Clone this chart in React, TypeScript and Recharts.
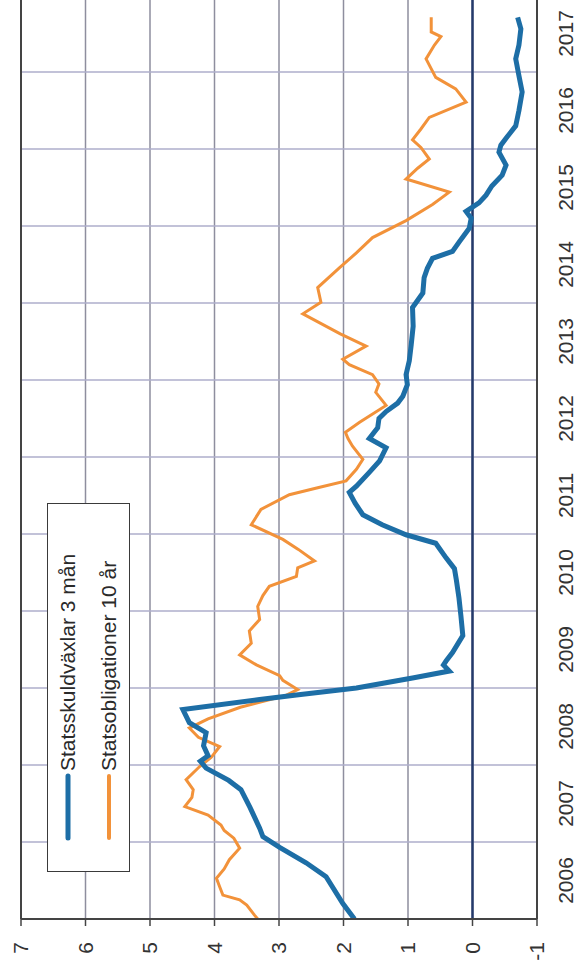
import React from "react";
import {
  LineChart,
  Line,
  XAxis,
  YAxis,
  CartesianGrid,
  ReferenceLine,
} from "recharts";

// Statsskuldväxlar 3 mån, decimal year / percent
const tbillYears = [
  2006.0, 2006.2, 2006.55, 2006.73, 2006.93, 2007.07, 2007.18, 2007.45, 2007.68,
  2007.8, 2007.96, 2008.05, 2008.12, 2008.25, 2008.42, 2008.55, 2008.72, 2008.85,
  2008.91, 2009.0, 2009.13, 2009.22, 2009.3, 2009.35, 2009.46, 2009.68, 2009.94,
  2010.17, 2010.4, 2010.55, 2010.69, 2010.88, 2010.99, 2011.12, 2011.25, 2011.4,
  2011.54, 2011.62, 2011.8, 2011.95, 2012.12, 2012.24, 2012.38, 2012.5, 2012.59,
  2012.7, 2012.79, 2012.94, 2013.07, 2013.25, 2013.46, 2013.7, 2013.94, 2014.13,
  2014.33, 2014.45, 2014.58, 2014.67, 2014.8, 2014.97, 2015.1, 2015.19, 2015.3,
  2015.4, 2015.52, 2015.66, 2015.79, 2015.96, 2016.05, 2016.14, 2016.3, 2016.5,
  2016.74, 2016.95, 2017.17, 2017.35, 2017.56, 2017.71,
];
const tbillRates = [
  1.83, 2.01, 2.27, 2.58, 2.99, 3.25, 3.3, 3.45, 3.59,
  3.78, 4.13, 4.22, 4.1, 4.17, 4.13, 4.39, 4.49, 3.3,
  2.73, 1.8, 0.93, 0.36, 0.45, 0.41, 0.31, 0.15, 0.18,
  0.21, 0.25, 0.28, 0.41, 0.57, 1.03, 1.4, 1.7, 1.82,
  1.91, 1.8, 1.6, 1.44, 1.34, 1.6, 1.47, 1.45, 1.34,
  1.16, 1.08, 1.01, 1.03, 0.98, 0.95, 0.92, 0.93, 0.77,
  0.75, 0.7, 0.62, 0.31, 0.2, 0.05, 0.02, 0.1, -0.1,
  -0.21, -0.3, -0.46, -0.52, -0.41, -0.44, -0.52, -0.67, -0.72,
  -0.77, -0.72, -0.67, -0.72, -0.75, -0.7,
];

// Statsobligationer 10 år
const bondYears = [
  2006.0, 2006.05, 2006.18, 2006.25, 2006.31, 2006.42, 2006.53, 2006.65, 2006.77,
  2006.92, 2007.05, 2007.15, 2007.22, 2007.35, 2007.46, 2007.58, 2007.68, 2007.81,
  2007.98, 2008.1, 2008.24, 2008.36, 2008.48, 2008.6, 2008.75, 2008.9, 2008.98,
  2009.1, 2009.16, 2009.3, 2009.43, 2009.58, 2009.74, 2009.89, 2010.06, 2010.2,
  2010.32, 2010.45, 2010.56, 2010.65, 2010.8, 2010.93, 2011.12, 2011.32, 2011.51,
  2011.6, 2011.69, 2011.84, 2011.97, 2012.14, 2012.24, 2012.32, 2012.45, 2012.67,
  2012.84, 2012.95, 2013.07, 2013.2, 2013.27, 2013.44, 2013.6, 2013.86, 2014.01,
  2014.2, 2014.46, 2014.65, 2014.85, 2015.07, 2015.28, 2015.44, 2015.61, 2015.75,
  2015.87, 2016.02, 2016.12, 2016.26, 2016.41, 2016.61, 2016.78, 2016.93, 2017.17,
  2017.35, 2017.46, 2017.52, 2017.71,
];
const bondRates = [
  3.33, 3.38, 3.5, 3.61, 3.87, 3.92, 3.97, 3.85, 3.77,
  3.61, 3.7, 3.85, 3.9, 4.1, 4.46, 4.35, 4.33, 4.44,
  4.23, 4.05, 3.92, 4.25, 4.39, 4.1, 3.6, 2.9, 2.71,
  2.94, 2.99, 3.35, 3.61, 3.43, 3.46, 3.3, 3.33, 3.25,
  3.15, 2.73, 2.71, 2.45, 2.7, 2.94, 3.43, 3.28, 2.84,
  2.4, 1.96, 1.8, 1.7, 1.86, 1.93, 1.97, 1.75, 1.34,
  1.5, 1.45, 1.55, 1.91, 2.01, 1.65, 2.05, 2.63, 2.35,
  2.4, 2.06, 1.8, 1.55, 1.03, 0.62, 0.36, 1.03, 0.85,
  0.67, 0.8, 0.93, 0.8, 0.67, 0.1, 0.26, 0.57, 0.72,
  0.59, 0.49, 0.64, 0.64,
];

const yearTicks = [2006, 2007, 2008, 2009, 2010, 2011, 2012, 2013, 2014, 2015, 2016, 2017, 2018];
const rateTicks = [-1, 0, 1, 2, 3, 4, 5, 6, 7];

const legendItems = [
  { name: "Statsskuldväxlar 3 mån", color: "#1d6ea6", width: 5 },
  { name: "Statsobligationer 10 år", color: "#f2923a", width: 4 },
];

const tbillData = tbillYears.map((t, i) => ({ t, v: tbillRates[i] }));
const bondData = bondYears.map((t, i) => ({ t, v: bondRates[i] }));

const CHART_W = 980;
const CHART_H = 577;
const MARGIN = { top: 21, right: 3, bottom: 4, left: 0 };
const Y_AXIS_W = 53;
const PLOT_W = CHART_W - MARGIN.left - MARGIN.right - Y_AXIS_W;
const YEAR_PX = PLOT_W / (yearTicks.length - 1);

const FONT = "'Liberation Sans', Arial, sans-serif";

// year labels sit in the middle of each year band
const YearTick = (props: any) => {
  const { x, y, payload } = props;
  if (payload.value >= 2018) return <g />;
  return (
    <text
      x={x + YEAR_PX / 2}
      y={y}
      dy={36}
      textAnchor="middle"
      fontSize={21}
      fontFamily={FONT}
      fill="#333"
    >
      {payload.value}
    </text>
  );
};

function ChartLegend() {
  return (
    <div
      style={{
        position: "absolute",
        left: 100,
        top: 47,
        width: 369,
        height: 83,
        border: "1.5px solid #3a3a3a",
        background: "#fff",
        boxSizing: "border-box",
        fontFamily: FONT,
        fontSize: 21,
        color: "#2a2a2a",
      }}
    >
      {legendItems.map((item, i) => (
        <div
          key={item.name}
          style={{
            position: "absolute",
            left: 30,
            top: 20 + i * 41 - 13,
            height: 26,
            display: "flex",
            alignItems: "center",
            whiteSpace: "nowrap",
          }}
        >
          <svg width={68} height={10} style={{ marginRight: 2 }}>
            <line
              x1={3}
              y1={5}
              x2={65}
              y2={5}
              stroke={item.color}
              strokeWidth={item.width}
              strokeLinecap="round"
            />
          </svg>
          <span>{item.name}</span>
        </div>
      ))}
    </div>
  );
}

export default function App() {
  return (
    <div
      style={{
        position: "fixed",
        left: 0,
        top: 0,
        width: 577,
        height: 972,
        overflow: "hidden",
        background: "#fff",
      }}
    >
      <div
        style={{
          position: "absolute",
          left: 0,
          top: 0,
          width: CHART_W,
          height: CHART_H,
          transformOrigin: "0 0",
          transform: "translate(0px, 972px) rotate(-90deg)",
        }}
      >
        <LineChart width={CHART_W} height={CHART_H} margin={MARGIN}>
          {/* rate levels in grey, year boundaries in a lighter lavender */}
          <CartesianGrid vertical={false} stroke="#8e8e9e" strokeWidth={1.5} />
          <CartesianGrid horizontal={false} stroke="#aeaecb" strokeWidth={1.5} />
          <XAxis
            type="number"
            dataKey="t"
            domain={[2006, 2018]}
            ticks={yearTicks}
            interval={0}
            height={36}
            tickSize={0}
            tickMargin={0}
            tickLine={false}
            axisLine={{ stroke: "#444", strokeWidth: 2 }}
            tick={<YearTick />}
            allowDataOverflow
          />
          <YAxis
            type="number"
            domain={[-1, 7]}
            ticks={rateTicks}
            interval={0}
            width={Y_AXIS_W}
            tickSize={7}
            tickMargin={16}
            tickLine={{ stroke: "#444", strokeWidth: 1.5 }}
            axisLine={{ stroke: "#444", strokeWidth: 2 }}
            tick={{ fontSize: 21, fontFamily: FONT, fill: "#333" }}
            allowDataOverflow
          />
          <ReferenceLine y={7} stroke="#444" strokeWidth={2} />
          <ReferenceLine x={2018} stroke="#444" strokeWidth={2} />
          <ReferenceLine y={0} stroke="#243a6b" strokeWidth={2.5} />
          <Line
            data={bondData}
            dataKey="v"
            type="linear"
            stroke="#f2923a"
            strokeWidth={3}
            dot={false}
            isAnimationActive={false}
          />
          <Line
            data={tbillData}
            dataKey="v"
            type="linear"
            stroke="#1d6ea6"
            strokeWidth={5}
            dot={false}
            isAnimationActive={false}
          />
        </LineChart>
        <ChartLegend />
      </div>
    </div>
  );
}
